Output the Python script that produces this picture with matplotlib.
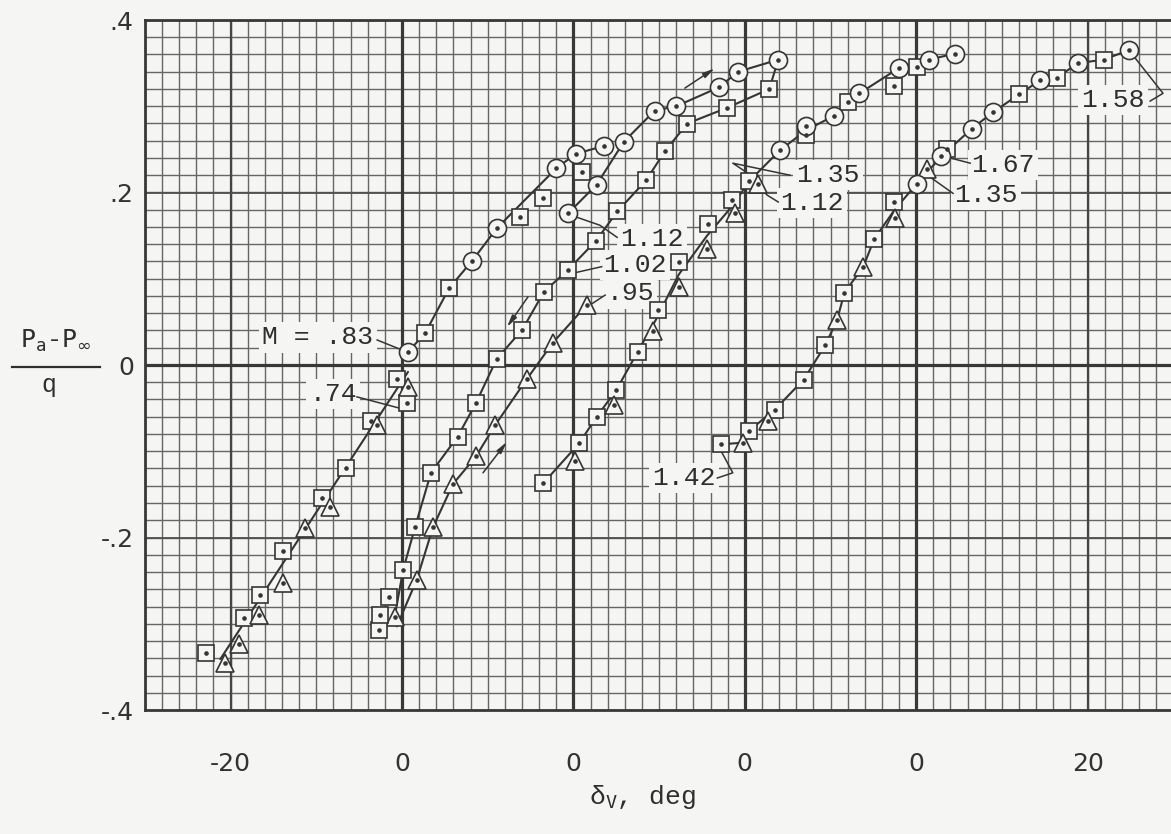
import numpy as np
import matplotlib.pyplot as plt
from matplotlib.lines import Line2D

# abscissa is offset: every group of curves has its own zero, 20 deg apart
x_ticks = [-20, 0, 20, 40, 60, 80]
x_ticklabels = ['-20', '0', '0', '0', '0', '20']
y_ticks = [0.4, 0.2, 0, -0.2, -0.4]
y_ticklabels = ['.4', '.2', '0', '-.2', '-.4']

# --- group 1 : M = .74 and .83
m74_sq_x = [-22.9, -18.4, -16.6, -13.9, -9.3, -6.5, -3.6, -0.6, 0.6]
m74_sq_y = [-0.334, -0.293, -0.267, -0.216, -0.154, -0.119, -0.065, -0.016, -0.044]
m74_tri_x = [-20.7, -19.0, -16.7, -13.9, -11.3, -8.4, -2.9, 0.7]
m74_tri_y = [-0.346, -0.323, -0.290, -0.253, -0.189, -0.165, -0.070, -0.026]
m74_line_x = [-21.2, 0.7]
m74_line_y = [-0.341, -0.008]

m83_circ_x = [0.7, 8.2, 11.1, 18.0, 20.3, 23.6]
m83_circ_y = [0.015, 0.121, 0.159, 0.228, 0.245, 0.254]
m83_sq_x = [2.7, 5.5, 13.8, 16.5, 21.0]
m83_sq_y = [0.037, 0.089, 0.172, 0.194, 0.224]
m83_line_x = [0.7, 2.7, 5.5, 8.2, 11.1, 18.0, 20.3, 23.6]
m83_line_y = [0.015, 0.037, 0.089, 0.121, 0.159, 0.228, 0.245, 0.254]

# --- group 2 : M = .95, 1.02, 1.12
m95_tri_x = [-0.82, 1.72, 3.62, 5.95, 8.63, 10.85, 14.59, 17.62, 21.59]
m95_tri_y = [-0.292, -0.249, -0.188, -0.138, -0.106, -0.070, -0.016, 0.026, 0.070]
m95_line_x = [-0.6, 1.72, 3.62, 5.95, 8.63, 10.85, 14.59, 17.62, 21.59]
m95_line_y = [-0.303, -0.249, -0.188, -0.138, -0.106, -0.070, -0.016, 0.026, 0.070]

m102_sq_x = [-2.65, -2.57, -1.48, 0.12, 1.52, 3.38, 6.50, 8.63, 11.05, 14.04,
             16.57, 19.34, 22.64, 25.12, 28.47, 30.69, 33.29, 37.89, 42.86]
m102_sq_y = [-0.307, -0.290, -0.269, -0.238, -0.188, -0.125, -0.083, -0.044, 0.007, 0.041,
             0.085, 0.110, 0.144, 0.178, 0.214, 0.248, 0.280, 0.298, 0.320]

m112_circ_x = [19.4, 22.7, 25.9, 29.5, 32.0, 37.0, 39.2, 43.9]
m112_circ_y = [0.176, 0.209, 0.259, 0.295, 0.300, 0.322, 0.340, 0.354]

# --- group 3
g3_sq_x = [16.49, 20.65, 22.72, 25.01, 27.48, 29.87, 32.32, 35.71, 38.47, 40.52,
           47.14, 52.04, 57.41, 60.04]
g3_sq_y = [-0.137, -0.091, -0.060, -0.029, 0.015, 0.064, 0.120, 0.164, 0.191, 0.213,
           0.267, 0.305, 0.323, 0.346]
g3_tri_x = [20.15, 24.70, 29.32, 32.32, 35.55, 38.86, 41.58]
g3_tri_y = [-0.111, -0.046, 0.040, 0.091, 0.135, 0.176, 0.210]
g3_circ_x = [44.11, 47.14, 50.41, 53.38, 57.94, 61.49, 64.47]
g3_circ_y = [0.249, 0.277, 0.289, 0.315, 0.344, 0.354, 0.361]
g3_line_x = [16.49, 20.65, 22.72, 25.01, 27.48, 29.6, 32.3, 35.6, 38.6, 40.5,
             44.11, 47.14, 50.41, 53.38, 57.94, 61.49, 64.47]
g3_line_y = [-0.137, -0.091, -0.060, -0.029, 0.015, 0.052, 0.105, 0.150, 0.185, 0.213,
             0.249, 0.272, 0.289, 0.315, 0.344, 0.354, 0.361]

# --- group 4
g4_sq_x = [37.26, 40.53, 43.47, 46.87, 49.39, 51.63, 55.10, 57.43, 63.65, 72.03, 76.39, 81.88]
g4_sq_y = [-0.092, -0.076, -0.052, -0.017, 0.023, 0.084, 0.146, 0.189, 0.251, 0.314, 0.333, 0.354]
g4_tri_x = [39.79, 42.65, 50.76, 53.83, 57.53, 61.23]
g4_tri_y = [-0.090, -0.065, 0.052, 0.114, 0.170, 0.227]
g4_circ_x = [60.06, 62.95, 66.48, 68.96, 74.45, 78.88, 84.81]
g4_circ_y = [0.210, 0.242, 0.274, 0.293, 0.330, 0.350, 0.365]
g4_line_x = [37.26, 39.79, 40.53, 43.47, 46.87, 49.39, 50.76, 51.63, 53.83, 55.10, 57.48,
             60.06, 62.95, 66.48, 68.96, 72.03, 74.45, 76.39, 78.88, 81.88, 84.81]
g4_line_y = [-0.092, -0.090, -0.076, -0.052, -0.017, 0.023, 0.052, 0.084, 0.114, 0.146, 0.180,
             0.210, 0.242, 0.274, 0.293, 0.314, 0.330, 0.333, 0.350, 0.354, 0.365]

# curve labels and their leader lines
label_text = ['M = .83', '.74', '1.12', '1.02', '.95', '1.35', '1.12', '1.67', '1.35', '1.58', '1.42']
label_x = [-9.8, -8.05, 29.2, 27.2, 26.6, 49.7, 47.8, 70.1, 68.1, 83.0, 32.9]
label_y = [0.032, -0.034, 0.146, 0.116, 0.083, 0.220, 0.188, 0.232, 0.197, 0.307, -0.131]
leaders = [
    [(-2.9, 0.029), (0.1, 0.017)],
    [(-5.25, -0.037), (-0.3, -0.050)],
    [(25.1, 0.148), (23.1, 0.162), (20.2, 0.172)],
    [(23.3, 0.114), (20.2, 0.107)],
    [(23.7, 0.081), (22.0, 0.070)],
    [(45.3, 0.220), (38.6, 0.234), (41.0, 0.218)],
    [(43.9, 0.189), (42.6, 0.197), (41.8, 0.206)],
    [(66.3, 0.234), (63.6, 0.241)],
    [(64.3, 0.199), (61.6, 0.218)],
    [(87.3, 0.306), (88.8, 0.315), (85.3, 0.359)],
    [(36.8, -0.131), (38.6, -0.125), (37.3, -0.101)],
]
arrow_start = [(33.0, 0.321), (14.7, 0.079), (9.45, -0.125)]
arrow_end = [(36.5, 0.344), (12.25, 0.044), (12.25, -0.089)]

paper = '#f5f5f3'
ink = '#353535'


def markers(ax, xs, ys, marker, size):
    ax.plot(xs, ys, ls='none', marker=marker, ms=size, mfc=paper, mec=ink, mew=1.2, zorder=4)
    ax.plot(xs, ys, ls='none', marker='o', ms=2.3, mfc=ink, mec=ink, zorder=5)


def curve(ax, xs, ys):
    ax.plot(xs, ys, color=ink, lw=1.5, zorder=3, solid_capstyle='round')


fig = plt.figure(figsize=(11.71, 8.34), dpi=100)
fig.patch.set_facecolor(paper)
ax = fig.add_axes([144.9 / 1171, 1 - 710 / 834, 1028.4 / 1171, 690 / 834])
ax.set_facecolor(paper)
ax.set_xlim(-30, 90)
ax.set_ylim(-0.4, 0.4)

# graph paper
for gx in np.arange(-30, 91, 2):
    ax.axvline(gx, color='#666666', lw=1.0, zorder=0.5)
for gy in np.arange(-0.4, 0.401, 0.02):
    ax.axhline(gy, color='#666666', lw=1.0, zorder=0.5)
for gx in [-20, 80]:
    ax.axvline(gx, color='#454545', lw=1.6, zorder=0.6)
for gy in [-0.2, 0.2]:
    ax.axhline(gy, color='#505050', lw=1.3, zorder=0.6)
for gx in [0, 20, 40, 60]:
    ax.axvline(gx, color='#383838', lw=2.3, zorder=0.7)
ax.axhline(0, color='#383838', lw=2.3, zorder=0.7)

for s in ['left', 'top', 'bottom']:
    ax.spines[s].set_color('#383838')
    ax.spines[s].set_linewidth(2.0)
ax.spines['right'].set_visible(False)

ax.set_xticks(x_ticks)
ax.set_xticklabels(x_ticklabels)
ax.set_yticks(y_ticks)
ax.set_yticklabels(y_ticklabels)
ax.tick_params(axis='x', length=0, pad=30, labelsize=18, colors='#333333')
ax.tick_params(axis='y', length=0, pad=8, labelsize=18, colors='#333333')

# faired curves
curve(ax, m74_line_x, m74_line_y)
curve(ax, m83_line_x, m83_line_y)
curve(ax, m95_line_x, m95_line_y)
loop_x = [-1.0] + m102_sq_x[3:] + m112_circ_x[::-1]
loop_y = [-0.300] + m102_sq_y[3:] + m112_circ_y[::-1]
curve(ax, loop_x, loop_y)
curve(ax, g3_line_x, g3_line_y)
curve(ax, g4_line_x, g4_line_y)

# test points
markers(ax, m74_sq_x, m74_sq_y, 's', 12)
markers(ax, m74_tri_x, m74_tri_y, '^', 13)
markers(ax, m83_sq_x, m83_sq_y, 's', 12)
markers(ax, m83_circ_x, m83_circ_y, 'o', 13)
markers(ax, m95_tri_x, m95_tri_y, '^', 13)
markers(ax, m102_sq_x, m102_sq_y, 's', 12)
markers(ax, m112_circ_x, m112_circ_y, 'o', 13)
markers(ax, g3_sq_x, g3_sq_y, 's', 12)
markers(ax, g3_tri_x, g3_tri_y, '^', 13)
markers(ax, g3_circ_x, g3_circ_y, 'o', 13)
markers(ax, g4_sq_x, g4_sq_y, 's', 12)
markers(ax, g4_tri_x, g4_tri_y, '^', 13)
markers(ax, g4_circ_x, g4_circ_y, 'o', 13)

# labels
for txt, lx, ly in zip(label_text, label_x, label_y):
    ax.text(lx, ly, txt, ha='center', va='center', fontsize=19,
            family='Liberation Mono', color='#2e2e2e', zorder=2.5,
            bbox=dict(boxstyle='square,pad=0.12', fc=paper, ec='none'))
for pts in leaders:
    ax.plot([p[0] for p in pts], [p[1] for p in pts], color=ink, lw=1.1, zorder=3)
for a, b in zip(arrow_start, arrow_end):
    ax.annotate('', xy=b, xytext=a, zorder=3,
                arrowprops=dict(arrowstyle='-|>,head_length=0.7,head_width=0.16',
                                color=ink, lw=1.1, shrinkA=0, shrinkB=0))

# axis titles
fig.text(56 / 1171, 1 - 341 / 834, r'$\mathtt{P_a}$-$\mathtt{P}_\infty$',
         ha='center', va='center', fontsize=18, color='#2e2e2e', family='Liberation Mono')
fig.add_artist(Line2D([12 / 1171, 100 / 1171], [1 - 367 / 834, 1 - 367 / 834],
                      color='#2e2e2e', lw=1.6))
fig.text(49 / 1171, 1 - 385 / 834, 'q', family='Liberation Mono',
         ha='center', va='center', fontsize=18, color='#2e2e2e')
fig.text(642 / 1171, 1 - 797 / 834, 'δ$_\\mathtt{V}$, deg', family='Liberation Mono',
         ha='center', va='center', fontsize=19, color='#2e2e2e')

fig.savefig('out.png', dpi=100, facecolor=paper)
